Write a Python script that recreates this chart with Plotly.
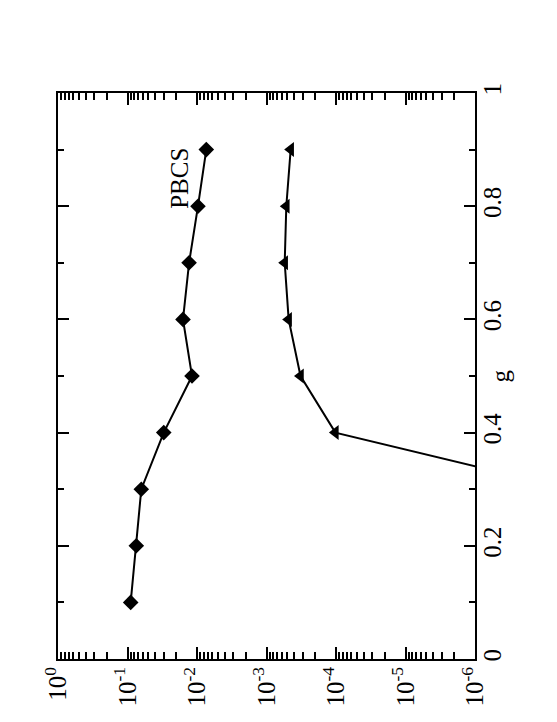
import plotly.graph_objects as go

# g values and the two curves
g_pbcs = [0.1, 0.2, 0.3, 0.4, 0.5, 0.6, 0.7, 0.8, 0.9]
e_pbcs = [0.090, 0.0747, 0.0633, 0.0301, 0.0118, 0.0159, 0.0130, 0.00968, 0.00735]

g_tri = [0.3, 0.4, 0.5, 0.6, 0.7, 0.8, 0.9]
e_tri = [4.2e-8, 1.02e-4, 3.24e-4, 4.8e-4, 5.47e-4, 5.19e-4, 4.49e-4]

# axis ticks
log_ticks = [1, 1e-1, 1e-2, 1e-3, 1e-4, 1e-5, 1e-6]
log_labels = ["10<sup>0</sup>", "10<sup>-1</sup>", "10<sup>-2</sup>", "10<sup>-3</sup>",
              "10<sup>-4</sup>", "10<sup>-5</sup>", "10<sup>-6</sup>"]
minor_log = [m * 10.0 ** k for k in range(-6, 0) for m in range(2, 10)]
g_ticks = [0, 0.2, 0.4, 0.6, 0.8, 1]
g_labels = ["0", "0.2", "0.4", "0.6", "0.8", "1"]

font = "Liberation Serif, Times New Roman, serif"

fig = go.Figure()
fig.add_trace(go.Scatter(x=e_pbcs, y=g_pbcs, mode="lines+markers",
                         line=dict(color="black", width=2),
                         marker=dict(symbol="diamond", size=12, color="black")))
fig.add_trace(go.Scatter(x=e_tri, y=g_tri, mode="lines+markers",
                         line=dict(color="black", width=2),
                         marker=dict(symbol="triangle-left", size=13, color="black"),
                         cliponaxis=True))

fig.add_annotation(x=-1.755, y=0.85, xref="x", yref="y", text="PBCS", textangle=-90,
                   showarrow=False, font=dict(family=font, size=25, color="black"))
# axis titles, rotated like the rest of the figure
fig.add_annotation(x=1.096, y=0.5, xref="paper", yref="paper", text="g", textangle=-90,
                   showarrow=False, font=dict(family=font, size=25, color="black"))
fig.add_annotation(x=0.48, y=0, xref="paper", yref="paper", yanchor="top", yshift=-64,
                   text="e<sup>II</sup>", textangle=-90, showarrow=False,
                   font=dict(family=font, size=25, color="black"))

fig.update_xaxes(type="log", range=[0, -6], showline=True, linecolor="black", linewidth=2,
                 mirror="allticks", ticks="inside", ticklen=12, tickwidth=1.5, tickcolor="black",
                 tickvals=log_ticks, ticktext=log_labels, tickangle=-90, automargin=False,
                 ticklabelstandoff=-4,
                 minor=dict(tickvals=minor_log, ticks="inside", ticklen=7, tickwidth=1.5,
                            tickcolor="black", showgrid=False),
                 showgrid=False, zeroline=False,
                 tickfont=dict(family=font, size=25, color="black"))
fig.update_yaxes(range=[0, 1], side="right", showline=True, linecolor="black", linewidth=2,
                 mirror="allticks", ticks="inside", ticklen=11, tickwidth=1.5, tickcolor="black",
                 tickvals=g_ticks, ticktext=g_labels, tickangle=-90, automargin=False,
                 ticklabelstandoff=-6,
                 minor=dict(dtick=0.1, ticks="inside", ticklen=6, tickwidth=1.5,
                            tickcolor="black", showgrid=False),
                 showgrid=False, zeroline=False,
                 tickfont=dict(family=font, size=25, color="black"))

fig.update_layout(width=557, height=722, showlegend=False,
                  plot_bgcolor="white", paper_bgcolor="white",
                  margin=dict(l=50, r=90, t=85, b=71))

fig.write_html("out.html")
